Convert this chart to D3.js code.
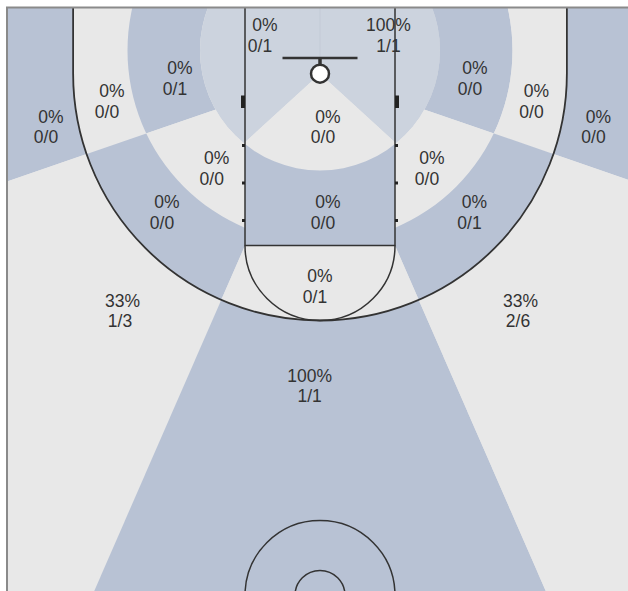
<!DOCTYPE html>
<html lang="en">
<head>
  <meta charset="UTF-8">
  <title>Shot chart</title>
  <script src="https://d3js.org/d3.v7.min.js"></script>
  <style>
    body { margin: 0; background: #fff; }
    .lbl {
      font-family: "Liberation Sans", Arial, sans-serif;
      font-size: 17.5px;
      fill: #333;
      text-anchor: middle;
    }
  </style>
</head>
<body>
  <div id="chart"></div>
  <script>
    // shot zones, made shots and attempts
    const zones = [
      "Left corner 3", "Left baseline long 2", "Left baseline mid 2", "Rim left", "Rim right",
      "Right baseline mid 2", "Right baseline long 2", "Right corner 3", "Under the rim",
      "Left wing mid 2", "Left wing long 2", "Paint", "Right wing mid 2", "Right wing long 2",
      "Top of key 2", "Left wing 3", "Top of key 3", "Right wing 3"
    ];
    const made     = [0, 0, 0, 0, 1, 0, 0, 0, 0, 0, 0, 0, 0, 0, 0, 1, 1, 2];
    const attempts = [0, 0, 1, 1, 1, 0, 0, 0, 0, 0, 0, 0, 0, 1, 1, 3, 1, 6];

    const W = 628, H = 591;

    // court in feet -> pixels
    const x = d3.scaleLinear().domain([-25, 25]).range([7.5, 632.5]);
    const y = d3.scaleLinear().domain([0, 47]).range([8, 595.5]);
    const ft = x(1) - x(0);

    const BASKET = [0, 5.25];
    const ZC = [0, 3.4];        // centre of the zone rings
    const R1 = 9.6, R2 = 15.4;  // zone ring radii
    const R3 = 19.75;           // three point radius
    const FAR = 300;

    const BLUE = "#b8c2d4", LIGHT = "#e8e8e8", PALE = "#ccd3de";

    const P = p => [x(p[0]), y(p[1])];
    const ray = (a, len) => [BASKET[0] + len * Math.cos(a), BASKET[1] + len * Math.sin(a)];
    const poly = pts => "M" + pts.map(p => P(p).join(",")).join("L") + "Z";
    const circ = (c, r) => {
      const p = d3.path();
      p.moveTo(x(c[0]) + r * ft, y(c[1]));
      p.arc(x(c[0]), y(c[1]), r * ft, 0, 2 * Math.PI);
      p.closePath();
      return p.toString();
    };
    const threePath = () => {
      const p = d3.path();
      p.moveTo(x(-R3), y(0));
      p.lineTo(x(-R3), y(BASKET[1]));
      p.arc(x(0), y(BASKET[1]), R3 * ft, Math.PI, 0, true);
      p.lineTo(x(R3), y(0));
      return p.toString();
    };
    const courtRect = poly([[-25, 0], [25, 0], [25, 47], [-25, 47]]);

    // ray angles from the basket
    const side = 19 * Math.PI / 180;
    const sideL = Math.PI - side, sideR = side;
    const yw = ZC[1] + Math.sqrt(R1 * R1 - 36) - 0.15;
    const wedgeL = Math.atan2(yw - BASKET[1], -6), wedgeR = Math.PI - wedgeL;
    const elbowL = Math.atan2(19 - BASKET[1], -6), elbowR = Math.PI - elbowL;
    const ySide6 = BASKET[1] + 6 * Math.tan(side);

    const sectors = {
      aTL: [BASKET, ray(wedgeL, FAR), [-FAR, -FAR], [0, -FAR]],
      aTR: [BASKET, ray(wedgeR, FAR), [FAR, -FAR], [0, -FAR]],
      aC:  [BASKET, ray(wedgeL, FAR), ray(wedgeR, FAR)],
      upL: [[-6, ySide6], ray(sideL, FAR), [-FAR, -FAR], [-6, -FAR]],
      upR: [[6, ySide6], ray(sideR, FAR), [FAR, -FAR], [6, -FAR]],
      loL: [[-6, ySide6], ray(sideL, FAR), [-FAR, FAR], [-6, FAR]],
      loR: [[6, ySide6], ray(sideR, FAR), [FAR, FAR], [6, FAR]],
      cLL: [[-6, ySide6], ray(sideL, FAR), ray(elbowL, FAR), [-6, 19]],
      cLR: [[6, ySide6], ray(sideR, FAR), ray(elbowR, FAR), [6, 19]],
      ft:  [[-6, 19], ray(elbowL, FAR), ray(elbowR, FAR), [6, 19]],
      lane: [[-6, 0], [6, 0], [6, 19], [-6, 19]],
      dUL: [BASKET, ray(sideL, FAR), [-FAR, -FAR], [0, -FAR]],
      dUR: [BASKET, ray(sideR, FAR), [FAR, -FAR], [0, -FAR]],
      dLL: [BASKET, ray(sideL, FAR), ray(elbowL, FAR)],
      dLR: [BASKET, ray(sideR, FAR), ray(elbowR, FAR)],
      dC:  [BASKET, ray(elbowL, FAR), ray(elbowR, FAR)]
    };

    // zone shape, clip, colour and label spot (feet), same order as zones
    const layout = [
      { s: "dUL", c: "out3",  f: BLUE,  l: [-21.92, 9.18] },
      { s: "upL", c: "ringC", f: LIGHT, l: [-17.04, 7.14] },
      { s: "upL", c: "ringB", f: BLUE,  l: [-11.6, 5.28] },
      { s: "aTL", c: "r1",    f: PALE,  l: [-4.8, 1.84] },
      { s: "aTR", c: "r1",    f: PALE,  l: [5.48, 1.84] },
      { s: "upR", c: "ringB", f: BLUE,  l: [12.0, 5.28] },
      { s: "upR", c: "ringC", f: LIGHT, l: [16.92, 7.14] },
      { s: "dUR", c: "out3",  f: BLUE,  l: [21.88, 9.18] },
      { s: "aC",  c: "r1",    f: LIGHT, l: [0.24, 9.18] },
      { s: "loL", c: "ringB", f: LIGHT, l: [-8.66, 12.5] },
      { s: "cLL", c: "ringC", f: BLUE,  l: [-12.64, 16.02] },
      { s: "lane", c: "outR1", f: BLUE, l: [0.24, 16.02] },
      { s: "loR", c: "ringB", f: LIGHT, l: [8.56, 12.5] },
      { s: "cLR", c: "ringC", f: BLUE,  l: [11.96, 16.02] },
      { s: "ft",  c: "in3",   f: LIGHT, l: [-0.4, 21.92] },
      { s: "dLL", c: "out3",  f: LIGHT, l: [-16, 23.9] },
      { s: "dC",  c: "out3",  f: BLUE,  l: [-0.83, 29.9] },
      { s: "dLR", c: "out3",  f: LIGHT, l: [15.84, 23.9] }
    ];

    const data = zones.map((z, i) => ({
      zone: z, made: made[i], att: attempts[i], ...layout[i]
    }));

    const svg = d3.select("#chart").append("svg")
      .attr("width", W).attr("height", H);

    const defs = svg.append("defs");
    const clips = {
      court: courtRect,
      r1: circ(ZC, R1),
      ringB: circ(ZC, R2) + circ(ZC, R1),
      ringC: threePath() + "Z" + circ(ZC, R2),
      in3: threePath() + "Z",
      out3: courtRect + threePath() + "Z",
      outR1: courtRect + circ(ZC, R1)
    };
    Object.entries(clips).forEach(([id, d]) => {
      defs.append("clipPath").attr("id", "clip-" + id)
        .append("path").attr("d", d).attr("clip-rule", "evenodd");
    });

    const court = svg.append("g").attr("clip-path", "url(#clip-court)");

    court.append("rect")
      .attr("x", x(-25)).attr("y", y(0))
      .attr("width", x(25) - x(-25)).attr("height", y(47) - y(0))
      .attr("fill", LIGHT);

    court.selectAll("g.zone")
      .data(data)
      .enter()
      .append("g")
      .attr("class", "zone")
      .attr("clip-path", d => `url(#clip-${d.c})`)
      .append("path")
      .attr("d", d => poly(sectors[d.s]))
      .attr("fill", d => d.f);

    // seam between the two rim zones
    court.append("line")
      .attr("x1", x(0)).attr("x2", x(0))
      .attr("y1", y(0)).attr("y2", y(4))
      .attr("stroke", "#c3cad6").attr("stroke-width", 1);

    // court lines
    const lines = court.append("g")
      .attr("fill", "none").attr("stroke", "#333").attr("stroke-width", 1.5);

    lines.append("path").attr("d", threePath()).attr("stroke-width", 1.8);
    lines.append("path").attr("d", poly([[-6, 0], [-6, 19], [6, 19], [6, 0]]).replace("Z", ""));

    const ftArc = d3.path();
    ftArc.moveTo(x(-6), y(19));
    ftArc.arc(x(0), y(19), 6 * ft, Math.PI, 0, true);
    lines.append("path").attr("d", ftArc.toString());

    lines.append("circle").attr("cx", x(0)).attr("cy", y(47)).attr("r", 6 * ft);
    lines.append("circle").attr("cx", x(0)).attr("cy", y(47)).attr("r", 2 * ft);

    // backboard and rim
    lines.append("line")
      .attr("x1", x(-3)).attr("x2", x(3)).attr("y1", y(4)).attr("y2", y(4))
      .attr("stroke-width", 2.5);
    lines.append("line")
      .attr("x1", x(0)).attr("x2", x(0)).attr("y1", y(4)).attr("y2", y(4.5))
      .attr("stroke-width", 3.5);
    lines.append("circle")
      .attr("cx", x(BASKET[0])).attr("cy", y(BASKET[1])).attr("r", 0.72 * ft)
      .attr("fill", "#fff").attr("stroke-width", 2.5);

    // lane blocks and hash marks
    const marks = court.append("g").attr("fill", "#222");
    [-1, 1].forEach(s => {
      const xo = s < 0 ? x(-6) - 4 : x(6);
      marks.append("rect")
        .attr("x", xo).attr("y", y(7)).attr("width", 4).attr("height", y(8) - y(7));
      [11, 14, 17].forEach(t => {
        marks.append("rect")
          .attr("x", s < 0 ? x(-6) - 3 : x(6)).attr("y", y(t) - 1.5)
          .attr("width", 3).attr("height", 3);
      });
    });

    // labels: percentage line sits a little right of the count line
    const pct = d => (d.att ? Math.round(d.made / d.att * 100) : 0) + "%";
    const labels = court.append("g");
    labels.selectAll("text.pct")
      .data(data).enter().append("text")
      .attr("class", "lbl pct")
      .attr("x", d => x(d.l[0]) + (4 - pct(d).length) * 2.5)
      .attr("y", d => y(d.l[1]))
      .text(pct);
    labels.selectAll("text.frac")
      .data(data).enter().append("text")
      .attr("class", "lbl frac")
      .attr("x", d => x(d.l[0]))
      .attr("y", d => y(d.l[1]) + 20.5)
      .text(d => d.made + "/" + d.att);

    // outer border
    svg.append("path")
      .attr("d", `M${x(-25) - 0.5},${H + 5}V${y(0) - 0.5}H${W + 5}`)
      .attr("fill", "none").attr("stroke", "#8a8a8a").attr("stroke-width", 2);
  </script>
</body>
</html>
